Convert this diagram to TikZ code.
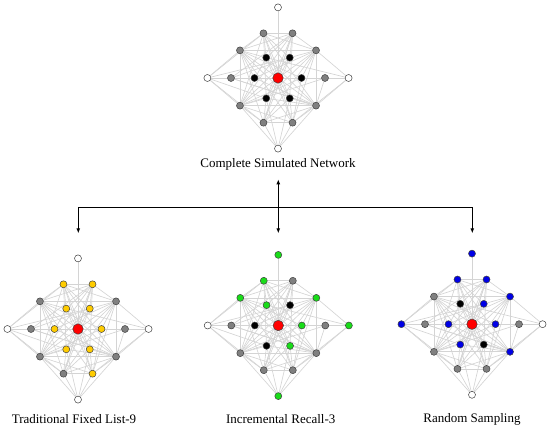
\documentclass[tikz,border=0pt]{standalone}
\usepackage{fontspec}
\setmainfont{Liberation Serif}
\usetikzlibrary{arrows.meta,backgrounds}
\definecolor{edgegray}{RGB}{212,212,212}
\definecolor{nodegray}{RGB}{128,128,128}
\definecolor{nyellow}{RGB}{255,204,0}
\definecolor{ngreen}{RGB}{25,220,25}
\definecolor{nblue}{RGB}{0,0,230}
\definecolor{nred}{RGB}{255,0,0}
\tikzset{
  netnode/.style={circle,draw=black!75,line width=0.5pt,inner sep=0pt,minimum size=7pt},
  wn/.style={netnode,fill=white},
  gn/.style={netnode,fill=nodegray},
  kn/.style={netnode,fill=black},
  yn/.style={netnode,fill=nyellow},
  en/.style={netnode,fill=ngreen},
  bn/.style={netnode,fill=nblue},
  rn/.style={netnode,fill=nred,minimum size=10.5pt},
  netedge/.style={draw=edgegray,line width=0.65pt},
  st-a0/.style={kn},st-a60/.style={kn},st-a120/.style={kn},
  st-a180/.style={kn},st-a240/.style={kn},st-a300/.style={kn},
  st-b0/.style={gn},st-b36/.style={gn},st-b72/.style={gn},st-b108/.style={gn},
  st-b144/.style={gn},st-b180/.style={gn},st-b216/.style={gn},st-b252/.style={gn},
  st-b288/.style={gn},st-b324/.style={gn},
  st-c0/.style={wn},st-c90/.style={wn},st-c180/.style={wn},st-c270/.style={wn},
  lbl/.style={font=\fontsize{13}{15}\selectfont,inner sep=0pt},
  conn/.style={line width=1.1pt,draw=black},
  tipend/.style={-{Latex[length=5pt,width=4pt]}},
  tipboth/.style={{Latex[length=5pt,width=4pt]}-{Latex[length=5pt,width=4pt]}}
}
\newcommand\netdraw[1]{%
  \node[rn] (#1C) at (0,0) {};
  \foreach \nm/\ang/\rad in {a0/0/23.5,a60/60/23.5,a120/120/23.5,a180/180/23.5,a240/240/23.5,a300/300/23.5,
    b0/0/47,b36/36/47,b72/72/47,b108/108/47,b144/144/47,b180/180/47,b216/216/47,b252/252/47,b288/288/47,b324/324/47,
    c0/0/70.6,c90/90/70.6,c180/180/70.6,c270/270/70.6}
    \node[st-\nm] (#1\nm) at (\ang:\rad) {};
  \begin{pgfonlayer}{background}
  \foreach \u/\v in {C/a0,C/a60,C/a120,C/a180,C/a240,C/a300,C/c90,C/b72,C/b252,
    a120/b108,a120/b72,a120/b144,a120/b324,a120/b216,a120/b288,
    a60/b72,a60/b108,a60/b36,a60/b180,a60/b252,a60/b216,
    a180/b180,a180/b144,a180/b36,a180/b324,
    a0/b0,a0/b36,a0/b144,a0/b216,a0/b288,
    a240/b252,a240/b216,a240/b72,a240/b36,a240/b324,a240/b108,
    a300/b288,a300/b324,a300/b108,a300/b144,a300/b252,a300/b72,
    b108/b72,b108/b144,b108/b36,b108/b216,b108/b288,b108/b324,
    b72/b36,b72/b144,b72/b180,b72/b216,b72/b252,
    b144/b216,b144/b36,b144/b324,b144/b288,b144/b252,
    b36/b324,b36/b216,b36/b252,b36/b288,
    b216/b252,b216/b324,b216/b288,
    b324/b288,b324/b252,b324/b180,
    b252/b288,b180/b324,b0/b324,b0/b216,
    c180/b180,c180/b144,c180/b108,c180/a60,c180/b216,c180/b252,c180/a240,
    c0/b0,c0/b36,c0/b324,c0/b288,c0/a120,
    c270/b216,c270/b252,c270/a240,c270/a300,c270/b288,c270/b324}
    \draw[netedge] (#1\u) -- (#1\v);
  \end{pgfonlayer}%
}
\begin{document}
\begin{tikzpicture}[x=1pt,y=1pt]
\useasboundingbox (0,0) rectangle (550,-430);
% top network
\begin{scope}[shift={(278,-78)}]
  \netdraw{t}
\end{scope}
% left network
\begin{scope}[shift={(78,-329)},
  st-a0/.style={yn},st-a60/.style={yn},st-a120/.style={yn},
  st-a180/.style={yn},st-a240/.style={yn},st-a300/.style={yn},
  st-b72/.style={yn},st-b108/.style={yn},st-b288/.style={yn}]
  \netdraw{l}
\end{scope}
% middle network
\begin{scope}[shift={(278.3,-325.5)},
  st-c90/.style={en},st-c0/.style={en},st-c270/.style={en},
  st-b108/.style={en},st-b144/.style={en},st-b36/.style={en},
  st-a120/.style={en},st-a0/.style={en},st-a300/.style={en}]
  \netdraw{m}
\end{scope}
% right network
\begin{scope}[shift={(472,-324.2)},
  st-c90/.style={bn},st-c180/.style={bn},
  st-b108/.style={bn},st-b72/.style={bn},st-b36/.style={bn},st-b324/.style={bn},
  st-a60/.style={bn},st-a180/.style={bn},st-a0/.style={bn},st-a240/.style={bn}]
  \netdraw{r}
\end{scope}
% labels
\node[lbl] (toplbl) at (278,-164) {Complete Simulated Network};
\node[lbl] (leftlbl) at (74,-419) {Traditional Fixed List-9};
\node[lbl] (midlbl) at (280.7,-419) {Incremental Recall-3};
\node[lbl] (rightlbl) at (472,-419) {Random Sampling};
% connectors
\coordinate (mtop) at (278.3,-179.3);
\coordinate (mbot) at (278.3,-233.3);
\coordinate (hl) at (78.3,-207.3);
\coordinate (hr) at (472.3,-207.3);
\coordinate (lbot) at (78.3,-233.3);
\coordinate (rbot) at (472.3,-233.3);
\draw[conn,tipboth] (mtop) -- (mbot);
\draw[conn] (hl) -- (hr);
\draw[conn,tipend] (hl) -- (lbot);
\draw[conn,tipend] (hr) -- (rbot);
\end{tikzpicture}
\end{document}
